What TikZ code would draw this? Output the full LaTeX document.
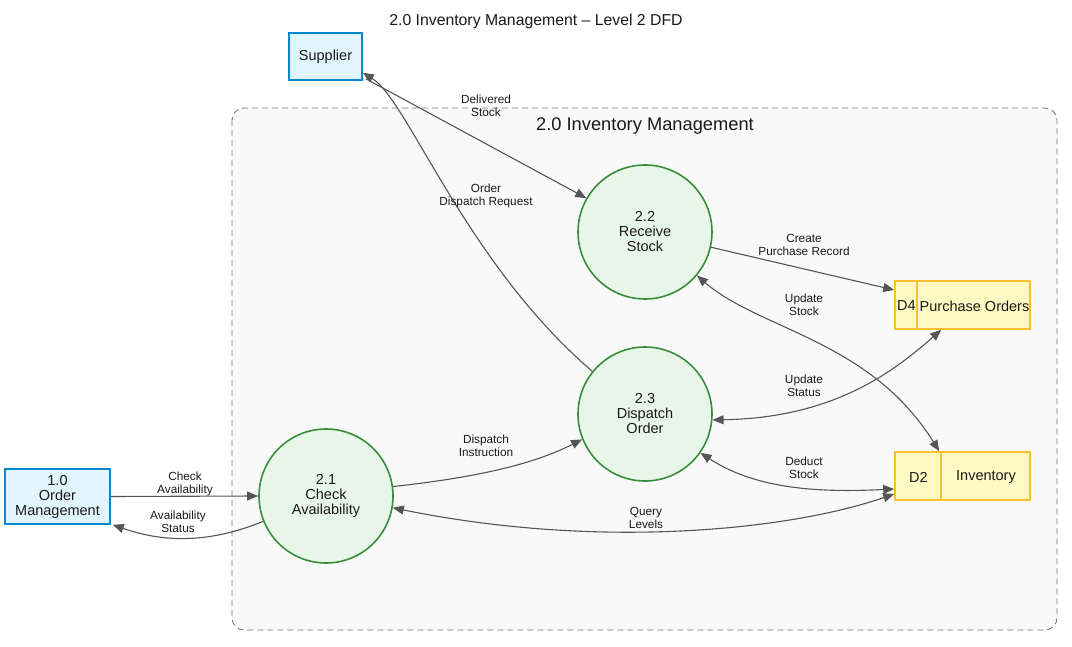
\documentclass[tikz,border=0pt]{standalone}
\usepackage{fontspec}
\setmainfont{Liberation Sans}
\usetikzlibrary{arrows.meta,calc}
\definecolor{extblue}{HTML}{0288D1}
\definecolor{extfill}{HTML}{E1F5FE}
\definecolor{procgreen}{HTML}{388E3C}
\definecolor{procfill}{HTML}{E8F5E9}
\definecolor{storeline}{HTML}{FBC02D}
\definecolor{storefill}{HTML}{FFF9C4}
\definecolor{flowgray}{HTML}{555555}
\definecolor{grpline}{HTML}{777777}
\definecolor{grpfill}{HTML}{F9F9F9}
\definecolor{txt}{HTML}{1A1A1A}
\tikzset{
  ext/.style={draw=extblue, fill=extfill, line width=1.6pt, inner sep=0pt, align=center,
    text=txt, font=\fontsize{14.5}{15}\selectfont},
  proc/.style={circle, draw=procgreen, fill=procfill, line width=1.6pt, minimum size=134pt,
    inner sep=0pt, align=center, text=txt, font=\fontsize{14.5}{15}\selectfont},
  storebox/.style={draw=storeline, fill=storefill, line width=1.6pt, minimum width=135pt,
    minimum height=48pt, inner sep=0pt},
  storetext/.style={inner sep=0pt, text=txt, font=\fontsize{14.5}{15}\selectfont},
  lab/.style={inner sep=0pt, align=center, text=txt, font=\fontsize{11.8}{12.8}\selectfont},
  flow/.style={draw=flowgray, line width=1.1pt, -{Triangle[length=11pt,width=9pt]}, color=flowgray},
  bflow/.style={draw=flowgray, line width=1.1pt, {Triangle[length=11pt,width=9pt]}-{Triangle[length=11pt,width=9pt]}, color=flowgray}
}
\begin{document}
\begin{tikzpicture}[x=1pt,y=-1pt]
\useasboundingbox (0,0) rectangle (1072,647);
\fill[white] (0,0) rectangle (1072,647);
% group
\draw[draw=grpline, fill=grpfill, line width=0.9pt, dash pattern=on 6pt off 4pt, rounded corners=12pt]
  (232,108) rectangle (1057,630);
\node[inner sep=0pt, text=txt, font=\fontsize{15.8}{16}\selectfont] (title) at (536,21) {2.0 Inventory Management -- Level 2 DFD};
\node[inner sep=0pt, text=txt, font=\fontsize{18.3}{19}\selectfont] (grplabel) at (645,126) {2.0 Inventory Management};
% external entities
\node[ext, minimum width=73pt, minimum height=47pt, text height=10.5pt, text depth=1.5pt] (sup) at (325.5,56.5) {Supplier};
\node[ext, minimum width=105pt, minimum height=55pt] (om) at (57.5,496.5) {1.0\\Order\\Management};
% processes
\node[proc] (p21) at (326,496) {2.1\\Check\\Availability};
\node[proc] (p22) at (645,232) {2.2\\Receive\\Stock};
\node[proc] (p23) at (645,414) {2.3\\Dispatch\\Order};
% stores
\node[storebox] (d4) at (962.5,305) {};
\draw[storeline, line width=1.6pt] ($(d4.north west)+(23,0)$) coordinate (d4a) -- ($(d4.south west)+(23,0)$) coordinate (d4b);
\node[storetext] (d4id) at (906.5,306) {D4};
\node[storetext] (d4name) at (974.5,306) {Purchase Orders};
\node[storebox] (d2) at (962.5,476) {};
\draw[storeline, line width=1.6pt] ($(d2.north west)+(47,0)$) coordinate (d2a) -- ($(d2.south west)+(47,0)$) coordinate (d2b);
\node[storetext] (d2id) at (918.5,477) {D2};
\node[storetext] (d2name) at (986,477) {Inventory};
% flows
\draw[flow] (om.east) -- (p21.west);
\node[lab] (l1) at (185,484) {Check\\Availability};
\draw[flow] (p21.202) .. controls (210,543) and (165,543) .. ($(om.south east)+(2,0)$);
\node[lab] (l2) at (178,522) {Availability\\Status};
\draw[flow] (p21.8) .. controls (470,478) and (530,466) .. (p23.202);
\node[lab] (l3) at (486,446) {Dispatch\\Instruction};
\draw[flow] ($(sup.south east)+(3,-2)$) -- (p22.150);
\node[lab] (l4) at (486,106) {Delivered\\Stock};
\draw[flow] (p23.141) .. controls (465,262) and (408,100) .. ($(sup.south east)+(0,-8)$);
\node[lab] (l5) at (486,196) {Order\\Dispatch Request};
\draw[flow] (p22.-13) -- ($(d4.west)+(0,-15)$);
\node[lab] (l6) at (804,245) {Create\\Purchase Record};
\draw[bflow] (p22.-40) .. controls (760,330) and (870,340) .. ($(d2.north west)+(45,0)$);
\node[lab] (l7) at (804,305) {Update\\Stock};
\draw[bflow] (p23.-5) .. controls (830,418) and (890,375) .. ($(d4.south west)+(47,0)$);
\node[lab] (l8) at (804,386) {Update\\Status};
\draw[bflow] (p23.-35) .. controls (760,492) and (830,492) .. ($(d2.west)+(0,13)$);
\node[lab] (l9) at (804,468) {Deduct\\Stock};
\draw[bflow] (p21.-10) .. controls (600,550) and (790,530) .. ($(d2.west)+(0,18)$);
\node[lab] (l10) at (646,518) {Query\\Levels};
\end{tikzpicture}
\end{document}
